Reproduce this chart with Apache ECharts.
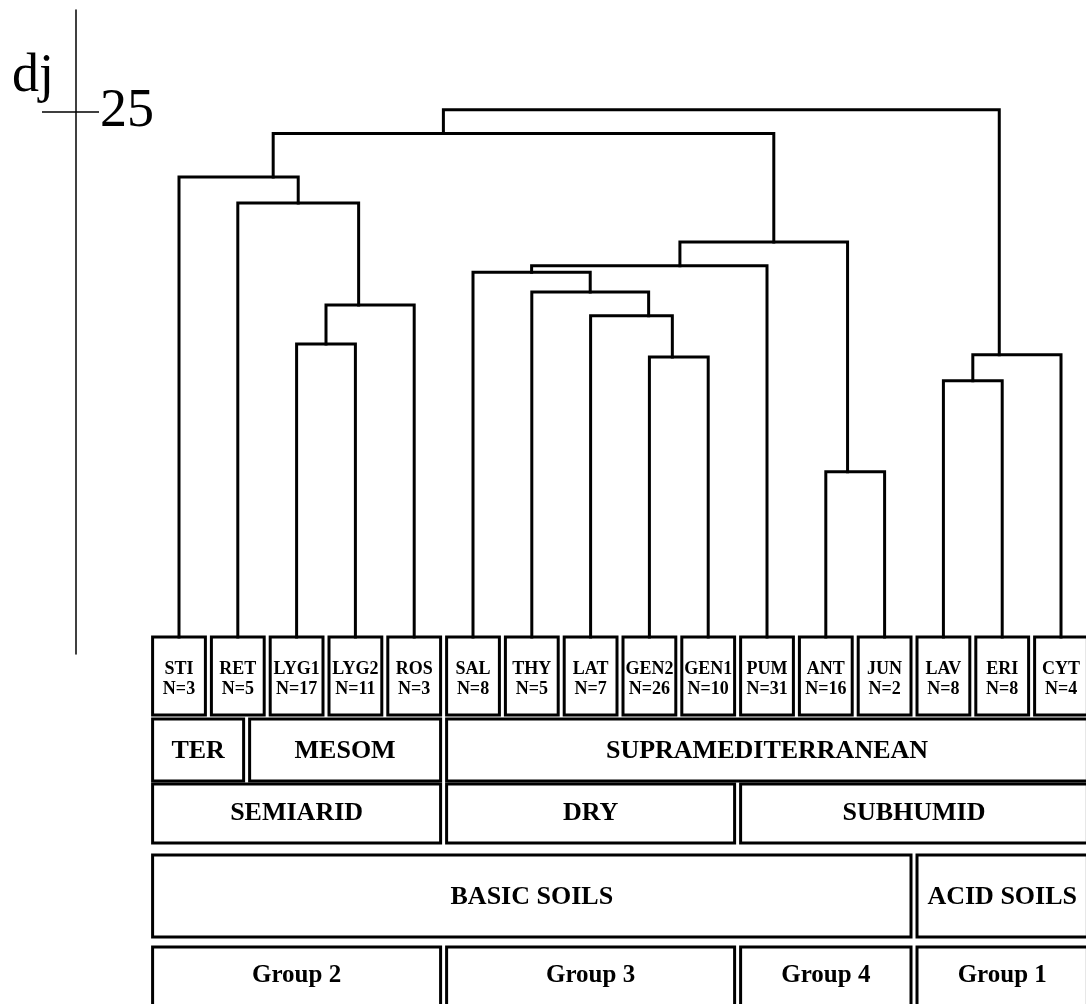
<!DOCTYPE html>
<html>
<head>
<meta charset="utf-8">
<title>dj dendrogram</title>
<script src="https://cdn.jsdelivr.net/npm/echarts@6/dist/echarts.min.js"></script>
<style>
  html, body { margin: 0; padding: 0; background: #fff; }
  #chart { width: 1086px; height: 1004px; }
</style>
</head>
<body>
<div id="chart"></div>
<script>
// Communities (leaves, left to right) and number of relevés in each
const leafNames = ['STI', 'RET', 'LYG1', 'LYG2', 'ROS', 'SAL', 'THY', 'LAT',
                   'GEN2', 'GEN1', 'PUM', 'ANT', 'JUN', 'LAV', 'ERI', 'CYT'];
const leafSizes = [3, 5, 17, 11, 3, 8, 5, 7, 26, 10, 31, 16, 2, 8, 8, 4];

// Agglomeration steps: node ids 0..15 are leaves, step k creates node 16 + k
const mergeLeft   = [2, 16, 1, 0, 8, 7, 6, 5, 23, 11, 24, 19, 13, 28, 27];
const mergeRight  = [3, 4, 17, 18, 9, 20, 21, 22, 10, 12, 25, 26, 14, 15, 29];
const mergeHeight = [14.3, 16.1, 20.8, 22.0, 13.7, 15.6, 16.7, 17.6, 17.9, 8.4, 19.0, 24.0, 12.6, 13.8, 25.1];

// Where along each bar the link to its parent is attached (0 = left end, 1 = right end)
const joinAt = [0.5, 0.37, 0.5, 0.79, 0.39, 0.71, 0.5, 0.5, 0.63, 0.37, 0.56, 0.34, 0.5, 0.3, 0.5];

// Classification bands under the leaves: [label, first slot, end slot]
const thermotypes = [['TER', 0, 1.65], ['MESOM', 1.65, 5], ['SUPRAMEDITERRANEAN', 5, 16]];
const ombrotypes  = [['SEMIARID', 0, 5], ['DRY', 5, 10], ['SUBHUMID', 10, 16]];
const soilTypes   = [['BASIC SOILS', 0, 13], ['ACID SOILS', 13, 16]];
const groups      = [['Group 2', 0, 5], ['Group 3', 5, 10], ['Group 4', 10, 13], ['Group 1', 13, 16]];

// Distance axis
const yMax = 29.7;
const yTicks = [25];

// Visible part of the slot axis (the last band runs past the right edge)
const xVisible = 15.925;

// Band geometry, in px relative to the distance baseline
const SERIF = '"Liberation Serif", "Times New Roman", serif';
const rows = [
  { top: -17, bottom: 61,  mid: 25,  font: 'bold 18px ' + SERIF, lineHeight: 20 },
  { top: 65,  bottom: 127, mid: 97,  font: 'bold 26px ' + SERIF },
  { top: 130, bottom: 189, mid: 159, font: 'bold 26px ' + SERIF },
  { top: 201, bottom: 283, mid: 243, font: 'bold 26px ' + SERIF },
  { top: 293, bottom: 356, mid: 322, font: 'bold 25px ' + SERIF }
];
const GAP = 3;

// ---- dendrogram geometry ----
const nLeaves = leafNames.length;
function nodeX(id) {
  if (id < nLeaves) return id + 0.5;
  const k = id - nLeaves;
  const lx = nodeX(mergeLeft[k]);
  const rx = nodeX(mergeRight[k]);
  return lx + joinAt[k] * (rx - lx);
}
function nodeH(id) {
  return id < nLeaves ? -1 : mergeHeight[id - nLeaves];
}
const linkData = mergeHeight.map((h, k) => [
  nodeX(mergeLeft[k]), nodeX(mergeRight[k]), h, nodeH(mergeLeft[k]), nodeH(mergeRight[k])
]);

// ---- band cells ----
const cells = [];
leafNames.forEach((name, i) => cells.push({ row: 0, start: i, end: i + 1, label: name + '\nN=' + leafSizes[i] }));
[thermotypes, ombrotypes, soilTypes, groups].forEach((band, r) => {
  band.forEach(([label, s, e]) => cells.push({ row: r + 1, start: s, end: e, label: label }));
});
const cellData = cells.map(c => [c.start, c.end, c.row]);

const chart = echarts.init(document.getElementById('chart'), null, { renderer: 'canvas' });

chart.setOption({
  backgroundColor: '#ffffff',
  animation: false,
  title: {
    text: 'dj',
    left: 12,
    top: 50,
    padding: 0,
    textStyle: { fontFamily: SERIF, fontSize: 54, fontWeight: 'normal', color: '#000' }
  },
  grid: { left: 149.6, right: 0, top: 10, bottom: 350, containLabel: false },
  xAxis: { type: 'value', min: 0, max: xVisible, show: false },
  yAxis: [
    {
      type: 'value', min: 0, max: yMax, position: 'left', offset: 73.6,
      axisLine: { show: true, onZero: false, lineStyle: { color: '#000', width: 1.5 } },
      axisTick: { show: true, customValues: yTicks, length: 34, lineStyle: { color: '#000', width: 1.5 } },
      axisLabel: {
        show: true, inside: true, customValues: yTicks, margin: 24,
        padding: [22, 0, 0, 0],
        fontFamily: SERIF, fontSize: 54, color: '#000'
      },
      splitLine: { show: false }
    },
    {
      type: 'value', min: 0, max: yMax, position: 'left', offset: 73.6,
      axisLine: { show: false, onZero: false },
      axisTick: { show: true, inside: true, customValues: yTicks, length: 23, lineStyle: { color: '#000', width: 1.5 } },
      axisLabel: { show: false },
      splitLine: { show: false }
    }
  ],
  series: [
    {
      name: 'bands',
      type: 'custom',
      clip: false,
      silent: true,
      data: cellData,
      encode: { x: [0, 1] },
      renderItem: function (params, api) {
        const c = cells[params.dataIndex];
        const row = rows[c.row];
        const base = api.coord([0, 0])[1];
        const x0 = api.coord([c.start, 0])[0] + GAP;
        const x1 = api.coord([c.end, 0])[0] - GAP;
        const y0 = base + row.top;
        const y1 = base + row.bottom;
        return {
          type: 'group',
          children: [
            {
              type: 'rect',
              shape: { x: x0, y: y0, width: x1 - x0, height: y1 - y0 },
              style: { fill: '#fff', stroke: '#000', lineWidth: 3 }
            },
            {
              type: 'text',
              style: {
                text: c.label, x: (x0 + x1) / 2, y: base + row.mid,
                align: 'center', verticalAlign: 'middle',
                font: row.font, lineHeight: row.lineHeight || undefined, fill: '#000'
              }
            }
          ]
        };
      }
    },
    {
      name: 'links',
      type: 'custom',
      clip: false,
      silent: true,
      data: linkData,
      encode: { x: [0, 1], y: [2] },
      renderItem: function (params, api) {
        const lx = api.value(0), rx = api.value(1), h = api.value(2);
        const lh = api.value(3), rh = api.value(4);
        const leafTop = api.coord([0, 0])[1] + rows[0].top;
        const pL = api.coord([lx, h]);
        const pR = api.coord([rx, h]);
        const yL = lh < 0 ? leafTop : api.coord([lx, lh])[1];
        const yR = rh < 0 ? leafTop : api.coord([rx, rh])[1];
        return {
          type: 'polyline',
          shape: { points: [[pL[0], yL], [pL[0], pL[1]], [pR[0], pR[1]], [pR[0], yR]] },
          style: { fill: 'none', stroke: '#000', lineWidth: 3, lineJoin: 'miter', lineCap: 'square' }
        };
      }
    }
  ]
});
</script>
</body>
</html>
